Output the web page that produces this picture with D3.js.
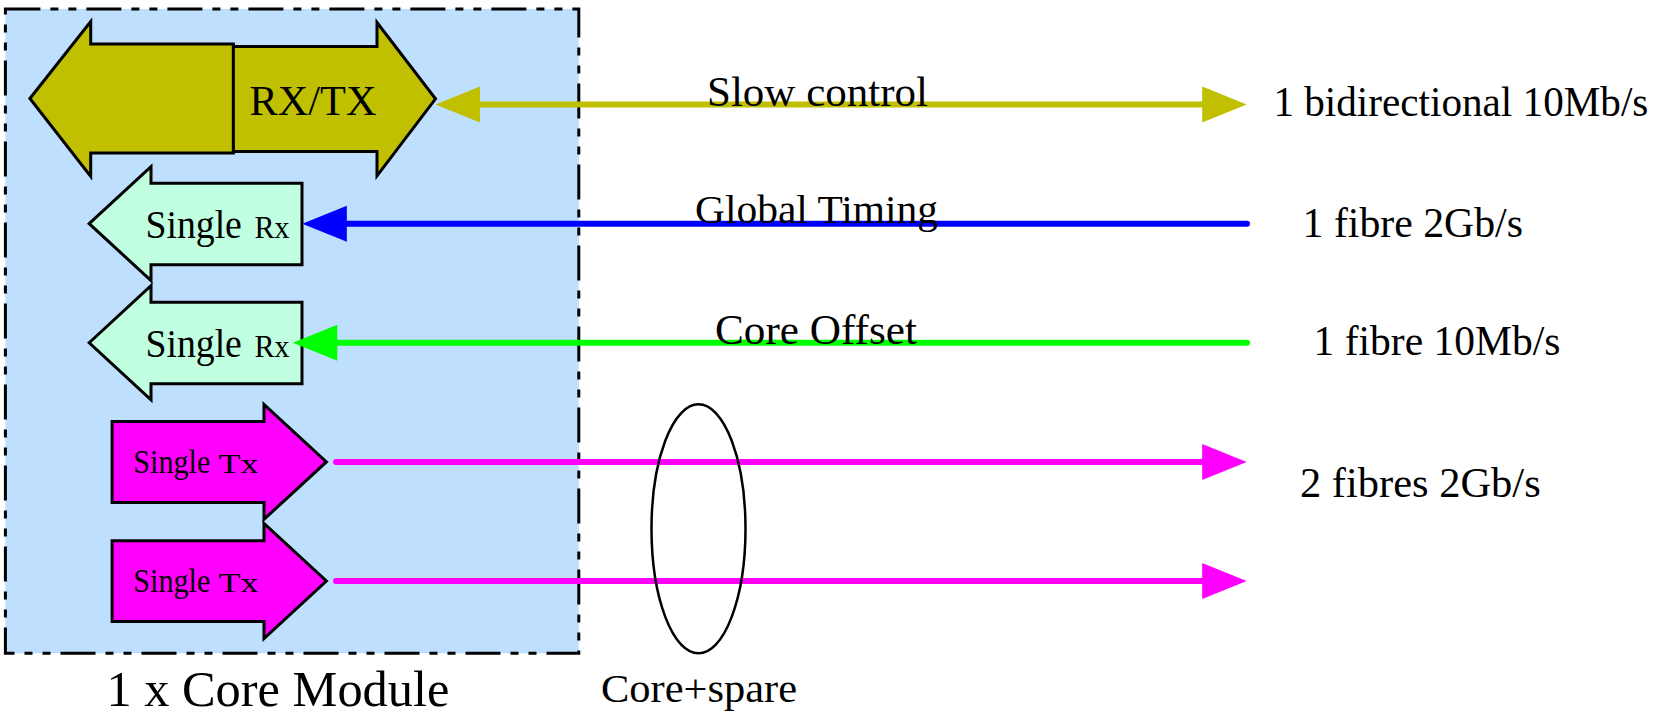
<!DOCTYPE html>
<html>
<head>
<meta charset="utf-8">
<script src="https://cdn.jsdelivr.net/npm/d3@7"></script>
<style>
  html, body { margin: 0; padding: 0; background: #fff; }
  svg { display: block; }
  text { font-family: "Liberation Serif", "Times New Roman", serif; fill: #000; }
</style>
</head>
<body>
<svg id="chart" width="1670" height="717"></svg>
<script>
// ---- data ----
const channels = ["slow", "timing", "offset", "tx1", "tx2"];
const channelLabels = ["Slow control", "Global Timing", "Core Offset", "", ""];
const channelColors = ["#C0C000", "#0000FF", "#00FF00", "#FF00FF", "#FF00FF"];
const channelDirections = ["both", "in", "in", "out", "out"];
const rateLabels = ["1 bidirectional 10Mb/s", "1 fibre 2Gb/s", "1 fibre 10Mb/s", "2 fibres 2Gb/s"];
const blockNames = ["RX/TX", "Single Rx", "Single Rx", "Single Tx", "Single Tx"];
const moduleTitle = "1 x Core Module";
const groupTitle = "Core+spare";

// ---- layout ----
const svg = d3.select("#chart");
const x = d3.scaleLinear().domain([0, 1670]).range([0, 1670]);
const y = d3.scalePoint().domain(channels).range([104.5, 581]);
const poly = pts => "M" + pts.map(p => x(p[0]) + "," + p[1]).join("L") + "Z";

// module box
svg.append("rect")
  .attr("x", x(5.4)).attr("y", 9).attr("width", x(578.8) - x(5.4)).attr("height", 644.3)
  .attr("fill", "#BFDFFF").attr("stroke", "#000").attr("stroke-width", 3)
  .attr("stroke-dasharray", "35,10,8,10,8,10");

// RX/TX double arrow
const c0 = y("slow") - 6;
svg.append("path").attr("d", poly([
  [29.9, c0], [90.7, c0 - 77], [90.7, c0 - 54.4], [233.4, c0 - 54.4],
  [233.4, c0 + 54.6], [90.7, c0 + 54.6], [90.7, c0 + 78]
])).attr("fill", "#C0C000").attr("stroke", "#000").attr("stroke-width", 3);
svg.append("path").attr("d", poly([
  [233.4, c0 - 52], [377, c0 - 52], [377, c0 - 76], [435.5, c0 + 0.3],
  [377, c0 + 77.3], [377, c0 + 53], [233.4, c0 + 53]
])).attr("fill", "#C0C000").attr("stroke", "#000").attr("stroke-width", 3);
svg.append("text").attr("x", x(249.5)).attr("y", 115)
  .attr("font-size", 42).attr("textLength", 127).attr("lengthAdjust", "spacingAndGlyphs")
  .text(blockNames[0]);

// Rx blocks (left-pointing)
["timing", "offset"].forEach((k, i) => {
  const cy = y(k);
  svg.append("path").attr("d", poly([
    [89.2, cy], [151, cy - 57], [151, cy - 40.5], [302, cy - 40.5],
    [302, cy + 41], [151, cy + 41], [151, cy + 57]
  ])).attr("fill", "#C0FFE0").attr("stroke", "#000").attr("stroke-width", 3);
  const parts = blockNames[i + 1].split(" ");
  svg.append("text").attr("x", x(145.4)).attr("y", cy + 14.5)
    .attr("font-size", 40.5).attr("textLength", 96.5).attr("lengthAdjust", "spacingAndGlyphs")
    .text(parts[0]);
  svg.append("text").attr("x", x(254.5)).attr("y", cy + 14.5)
    .attr("font-size", 31).attr("textLength", 35).attr("lengthAdjust", "spacingAndGlyphs")
    .text(parts[1]);
});

// Tx blocks (right-pointing)
["tx1", "tx2"].forEach((k, i) => {
  const cy = y(k);
  svg.append("path").attr("d", poly([
    [112.1, cy - 40.3], [264, cy - 40.3], [264, cy - 57.5], [326.4, cy],
    [264, cy + 57.5], [264, cy + 40.6], [112.1, cy + 40.6]
  ])).attr("fill", "#FF00FF").attr("stroke", "#000").attr("stroke-width", 3);
  const parts = blockNames[i + 3].split(" ");
  svg.append("text").attr("x", x(133.3)).attr("y", cy + 11.3)
    .attr("font-size", 34).attr("textLength", 77).attr("lengthAdjust", "spacingAndGlyphs")
    .text(parts[0]);
  svg.append("text").attr("x", x(218.5)).attr("y", cy + 11.3)
    .attr("font-size", 26.5).attr("textLength", 40).attr("lengthAdjust", "spacingAndGlyphs")
    .text(parts[1]);
});

// channel lines
const head = (tipX, cy, dir, color) => {
  const L = 44.5, H = 18;
  svg.append("path").attr("d", poly([[tipX, cy], [tipX - dir * L, cy - H], [tipX - dir * L, cy + H]]))
    .attr("fill", color);
};
channels.forEach((k, i) => {
  const cy = y(k), col = channelColors[i], dir = channelDirections[i];
  let x0, x1;
  if (dir === "both") { x0 = 478; x1 = 1204; }
  else if (dir === "in") { x0 = 334; x1 = 1247; }
  else { x0 = 336; x1 = 1204; }
  svg.append("line").attr("x1", x(x0)).attr("x2", x(x1)).attr("y1", cy).attr("y2", cy)
    .attr("stroke", col).attr("stroke-width", 6)
    .attr("stroke-linecap", dir === "both" ? "butt" : "round");
  if (dir === "both") { head(435.5, cy, -1, col); head(1246.7, cy, 1, col); }
  else if (dir === "in") { head(k === "timing" ? 302.3 : 292.8, cy, -1, col); }
  else { head(1246.7, cy, 1, col); }
});

// ellipse grouping the two tx fibres (drawn over the lines)
svg.append("ellipse").attr("cx", x(698.5)).attr("cy", 528.8).attr("rx", 47).attr("ry", 124.5)
  .attr("fill", "none").attr("stroke", "#000").attr("stroke-width", 2.5);

// labels on the lines
const lineLabelPos = [[707, 106, 43, 221], [695, 223, 41, 243], [715, 344, 42, 202]];
channelLabels.forEach((t, i) => {
  if (!t) return;
  const p = lineLabelPos[i];
  svg.append("text").attr("x", x(p[0])).attr("y", p[1]).attr("font-size", p[2])
    .attr("textLength", p[3]).attr("lengthAdjust", "spacingAndGlyphs").text(t);
});

// rate labels
const ratePos = [[1273.4, 116, 375], [1302.6, 237, 220.4], [1313.5, 355, 247], [1300, 497, 240.7]];
rateLabels.forEach((t, i) => {
  const p = ratePos[i];
  svg.append("text").attr("x", x(p[0])).attr("y", p[1]).attr("font-size", 42)
    .attr("textLength", p[2]).attr("lengthAdjust", "spacingAndGlyphs").text(t);
});

// captions
svg.append("text").attr("x", x(106.4)).attr("y", 706).attr("font-size", 51)
  .attr("textLength", 343).attr("lengthAdjust", "spacingAndGlyphs").text(moduleTitle);
svg.append("text").attr("x", x(601)).attr("y", 701.7).attr("font-size", 40.5)
  .attr("textLength", 196).attr("lengthAdjust", "spacingAndGlyphs").text(groupTitle);
</script>
</body>
</html>
